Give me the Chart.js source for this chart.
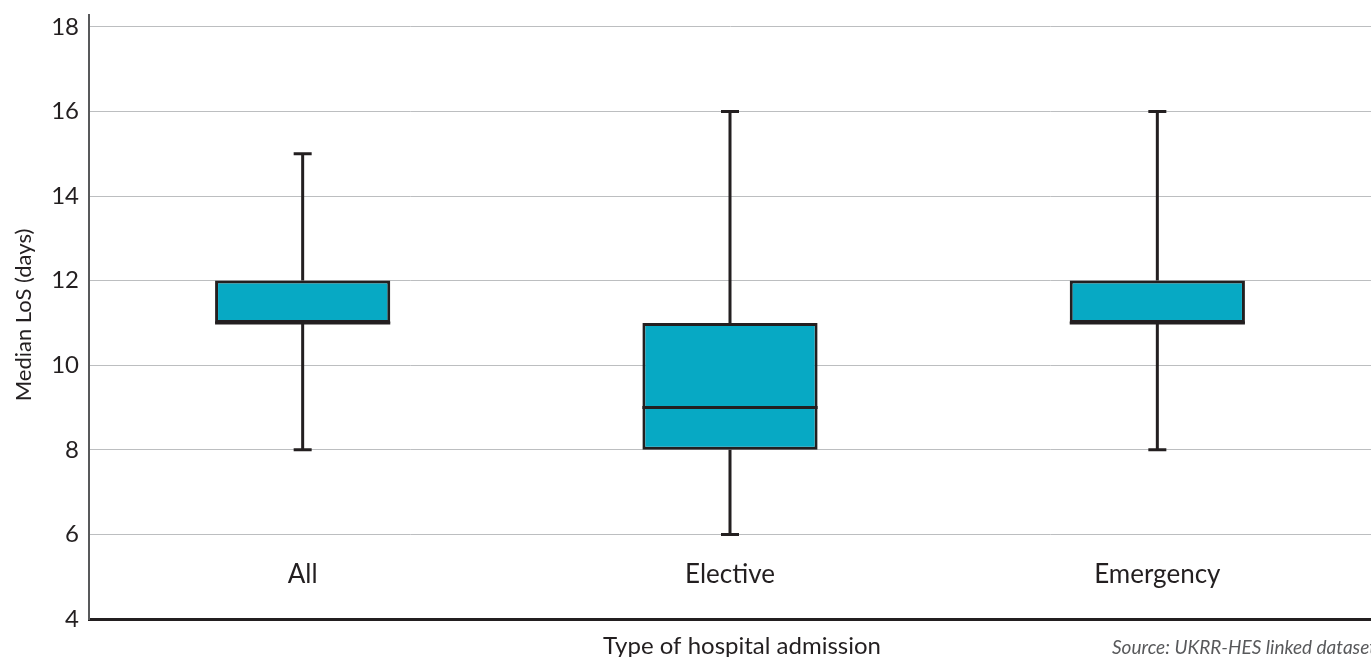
<!DOCTYPE html>
<html>
<head>
<meta charset="utf-8">
<script src="https://cdn.jsdelivr.net/npm/chart.js@4"></script>
<style>
html,body{margin:0;padding:0;background:#fff;}
#wrap{width:1371px;height:657px;position:relative;}
</style>
</head>
<body>
<div id="wrap"><canvas id="c" width="1371" height="657"></canvas></div>
<script>
const categories = ["All", "Elective", "Emergency"];
const minValues = [8, 6, 8];
const q1Values = [11, 8, 11];
const medianValues = [11, 9, 11];
const q3Values = [12, 11, 12];
const maxValues = [15, 16, 16];
const yTicks = [4, 6, 8, 10, 12, 14, 16, 18];

const yTitle = "Median LoS (days)";
const xTitle = "Type of hospital admission";
const sourceText = "Source: UKRR-HES linked dataset";

const DARK = "#231f20";
const FILL = "#07a9c4";

const boxPlugin = {
  id: "boxExtras",
  afterDatasetsDraw(chart) {
    const ctx = chart.ctx;
    const x = chart.scales.x, y = chart.scales.y;
    const meta = chart.getDatasetMeta(0);
    ctx.save();
    ctx.strokeStyle = DARK;
    ctx.lineWidth = 3;
    ctx.lineCap = "butt";
    categories.forEach((c, i) => {
      const cx = x.getPixelForValue(i);
      const bar = meta.data[i];
      const half = bar.width / 2;
      const yMin = y.getPixelForValue(minValues[i]);
      const yQ1 = y.getPixelForValue(q1Values[i]);
      const yQ3 = y.getPixelForValue(q3Values[i]);
      const yMax = y.getPixelForValue(maxValues[i]);
      const yMed = y.getPixelForValue(medianValues[i]);
      ctx.beginPath();
      ctx.moveTo(cx, yMin); ctx.lineTo(cx, yQ1);
      ctx.moveTo(cx, yQ3); ctx.lineTo(cx, yMax);
      ctx.moveTo(cx - 9, yMin); ctx.lineTo(cx + 9, yMin);
      ctx.moveTo(cx - 9, yMax); ctx.lineTo(cx + 9, yMax);
      ctx.moveTo(cx - half, yMed); ctx.lineTo(cx + half, yMed);
      ctx.stroke();
    });
    // category labels inside plot
    ctx.fillStyle = DARK;
    ctx.font = "26px Lato";
    ctx.textAlign = "center";
    ctx.textBaseline = "middle";
    categories.forEach((c, i) => {
      ctx.fillText(c, x.getPixelForValue(i), y.getPixelForValue(5.05));
    });
    // titles
    ctx.font = "24px Lato";
    ctx.textBaseline = "middle";
    ctx.fillText(xTitle, 742, 646);
    ctx.font = "italic 19px Lato";
    ctx.fillStyle = "#58595b";
    ctx.textAlign = "left";
    ctx.fillText(sourceText, 1112, 648);
    ctx.save();
    ctx.translate(24, 315);
    ctx.rotate(-Math.PI / 2);
    ctx.textAlign = "center";
    ctx.fillStyle = DARK;
    ctx.font = "22px Lato";
    ctx.fillText(yTitle, 0, 0);
    ctx.restore();
    ctx.restore();
  }
};

new Chart(document.getElementById("c"), {
  type: "bar",
  data: {
    labels: categories,
    datasets: [{
      data: categories.map((c, i) => [q1Values[i], q3Values[i]]),
      backgroundColor: FILL,
      borderColor: DARK,
      borderWidth: 3,
      borderSkipped: false,
      categoryPercentage: 1,
      barPercentage: 0.41
    }]
  },
  options: {
    responsive: false,
    animation: false,
    devicePixelRatio: 1,
    layout: { padding: { top: 15, right: 0, left: 0, bottom: 0 } },
    plugins: { legend: { display: false }, tooltip: { enabled: false } },
    scales: {
      x: {
        offset: true,
        ticks: { display: false },
        grid: { display: false, drawTicks: false },
        border: { display: true, color: DARK, width: 3 },
        afterFit(s) { s.height = 38; s.paddingLeft = 0; s.paddingRight = 0; }
      },
      y: {
        min: 4,
        max: 18.28,
        afterBuildTicks(s) { s.ticks = yTicks.map(v => ({ value: v })); },
        ticks: { color: DARK, font: { family: "Lato", size: 24 }, padding: 10 },
        grid: { color: "#bcbec0", lineWidth: 1, drawTicks: false },
        border: { display: true, color: "#58595b", width: 2 },
        afterFit(s) { s.width = 89; s.paddingTop = 0; s.paddingBottom = 0; }
      }
    }
  },
  plugins: [boxPlugin]
});
</script>
</body>
</html>
